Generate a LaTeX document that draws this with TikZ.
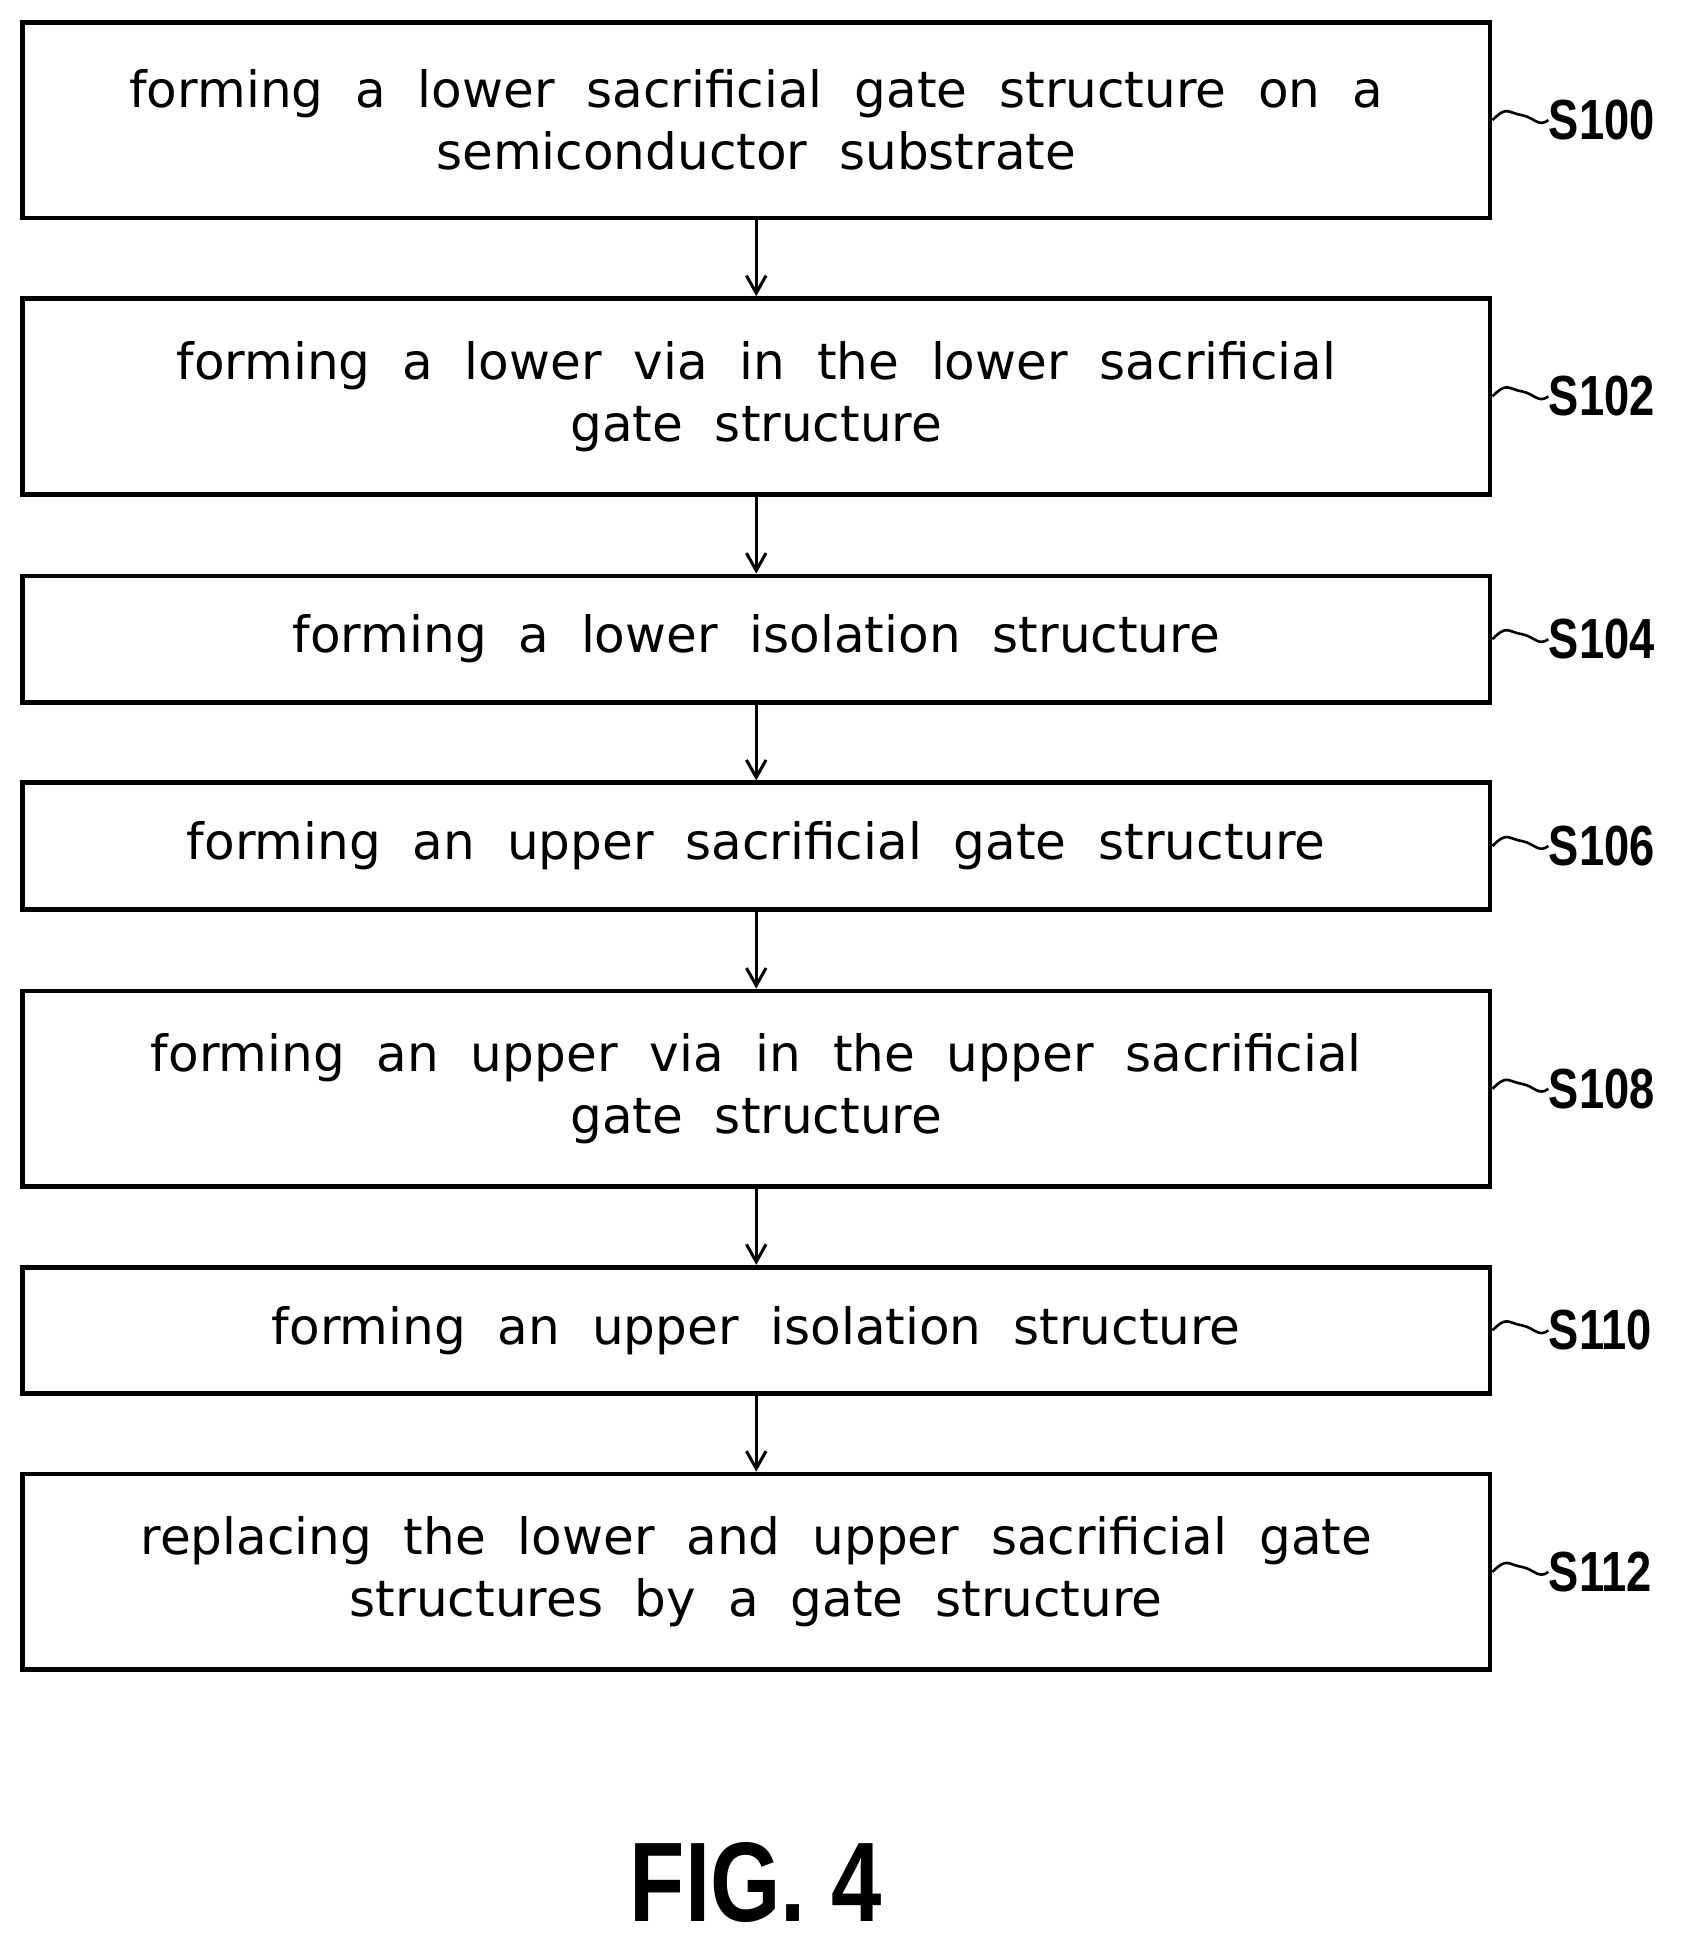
\documentclass[tikz,border=0pt]{standalone}
\usetikzlibrary{arrows.meta}
\usepackage{fontspec}
\setmainfont{DejaVu Sans}[WordSpace=2]
\newfontfamily\labfont{Liberation Sans}[FakeStretch=0.8]
\begin{document}
\begin{tikzpicture}[x=0.02cm,y=-0.02cm,
 box/.style={draw,line width=2.2pt,minimum width=23.7cm,inner sep=0pt,align=center,
   font=\fontsize{23}{28.5}\selectfont},
 arr/.style={-{Straight Barb[length=8pt,width=9pt]},line width=1.4pt},
 lab/.style={font=\labfont\bfseries\fontsize{26}{26}\selectfont,anchor=west,inner sep=0pt},
 sq/.style={line width=1.2pt}]
\useasboundingbox (0,0) rectangle (1360,1571);
\newcommand\mkstep[4]{%
 \pgfmathsetmacro\hh{(#3-#2)*0.02}%
 \pgfmathsetmacro\yy{(#2+#3)/2}%
 \node[box,minimum height=\hh cm] (#1) at (610.5,\yy) {#4};
 \node[lab] (l#1) at (1250,\yy) {#1};
 \draw[sq] (#1.east) .. controls +(12,-12) and +(-12,-2) .. ++(24,-4) .. controls +(10,2) and +(-8,6) .. (l#1.west);}
\mkstep{S100}{18}{176}{forming a lower sacrificial gate structure on a\\semiconductor substrate}
\mkstep{S102}{241}{399}{forming a lower via in the lower sacrificial\\gate structure}
\mkstep{S104}{465}{567}{forming a lower isolation structure}
\mkstep{S106}{632}{734}{forming an upper sacrificial gate structure}
\mkstep{S108}{800}{958}{forming an upper via in the upper sacrificial\\gate structure}
\mkstep{S110}{1023}{1125}{forming an upper isolation structure}
\mkstep{S112}{1190}{1348}{replacing the lower and upper sacrificial gate\\structures by a gate structure}
\foreach \a/\b in {S100/S102,S102/S104,S104/S106,S106/S108,S108/S110,S110/S112}
 \draw[arr] (\a.south) -- (\b.north);
\node[font=\labfont\bfseries\fontsize{52}{52}\selectfont] (fig) at (610,1520) {FIG. 4};
\end{tikzpicture}
\end{document}
